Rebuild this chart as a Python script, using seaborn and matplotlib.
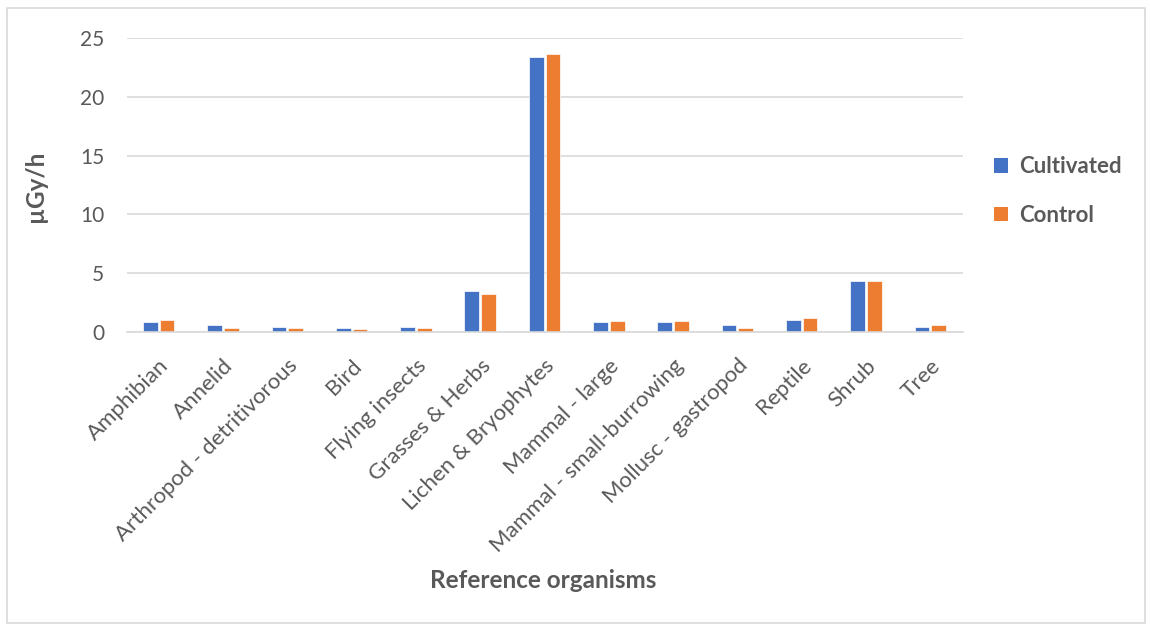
import matplotlib
matplotlib.use("Agg")
import matplotlib.pyplot as plt
import seaborn as sns
import pandas as pd
import numpy as np
from matplotlib.patches import Patch, Rectangle

categories = ["Amphibian", "Annelid", "Arthropod - detritivorous", "Bird", "Flying insects",
              "Grasses & Herbs", "Lichen & Bryophytes", "Mammal - large",
              "Mammal - small-burrowing", "Mollusc - gastropod", "Reptile", "Shrub", "Tree"]
cultivated = [0.88, 0.57, 0.42, 0.31, 0.40, 3.48, 23.4, 0.83, 0.86, 0.57, 1.0, 4.35, 0.45]
control = [1.03, 0.34, 0.34, 0.25, 0.32, 3.2, 23.66, 0.95, 0.95, 0.31, 1.21, 4.32, 0.60]
series_names = ["Cultivated", "Control"]
y_ticks = [0, 5, 10, 15, 20, 25]

df = pd.DataFrame({
    "organism": categories * 2,
    "value": cultivated + control,
    "series": [series_names[0]] * len(categories) + [series_names[1]] * len(categories),
})

sns.set_theme(style="white")
plt.rcParams["font.family"] = ["Lato", "DejaVu Sans"]
text_color = "#595959"
colors = ["#4472C4", "#ED7D31"]

fig = plt.figure(figsize=(11.5, 6.25), dpi=100)
ax = fig.add_axes([0.110, 0.469, 0.727, 0.470])

sns.barplot(data=df, x="organism", y="value", hue="series", palette=colors, saturation=1,
            width=0.52, gap=0.12, ax=ax, legend=False, edgecolor="white", linewidth=0.5)

ax.set_ylim(0, 25)
ax.set_xlim(-0.5, len(categories) - 0.5)
ax.set_yticks(y_ticks)
ax.set_yticklabels([str(t) for t in y_ticks], color=text_color, fontsize=15)
ax.yaxis.grid(True, color="#D9D9D9", linewidth=1.2)
ax.set_axisbelow(True)
for s in ["top", "right", "left"]:
    ax.spines[s].set_visible(False)
ax.spines["bottom"].set_color("#D9D9D9")
ax.spines["bottom"].set_linewidth(1.2)
ax.tick_params(axis="y", length=0, pad=16)

ax.set_xticks(range(len(categories)))
ax.set_xticklabels(categories, rotation=45, ha="right", rotation_mode="anchor",
                   color=text_color, fontsize=16)
ax.tick_params(axis="x", which="major", length=0, pad=17)
ax.set_xticks(np.arange(-0.5, len(categories), 1.0), minor=True)
ax.tick_params(axis="x", which="minor", length=7, width=1.2, color="#D9D9D9", direction="out")
ax.set_xlabel("")
ax.set_ylabel("")

fig.text(0.472, 1 - 581 / 625, "Reference organisms", fontsize=17.5, fontweight="bold",
         color=text_color, ha="center", va="center")
fig.text(0.031, 1 - 186 / 625, "µGy/h", fontsize=17.5, fontweight="bold", color=text_color,
         rotation=90, ha="center", va="center")

handles = [Patch(facecolor=c, edgecolor="none") for c in colors]
fig.legend(handles, series_names, loc="center left", bbox_to_anchor=(0.847, 1 - 191 / 625),
           frameon=False, prop={"size": 16, "weight": "bold"}, labelcolor=text_color,
           handlelength=0.65, handleheight=0.65, handletextpad=0.5, labelspacing=1.25)

fig.patches.append(Rectangle((0.006, 0.003), 0.99, 0.985, transform=fig.transFigure,
                             fill=False, edgecolor="#D9D9D9", linewidth=1.2))

fig.savefig("out.png", dpi=100, facecolor="white")
